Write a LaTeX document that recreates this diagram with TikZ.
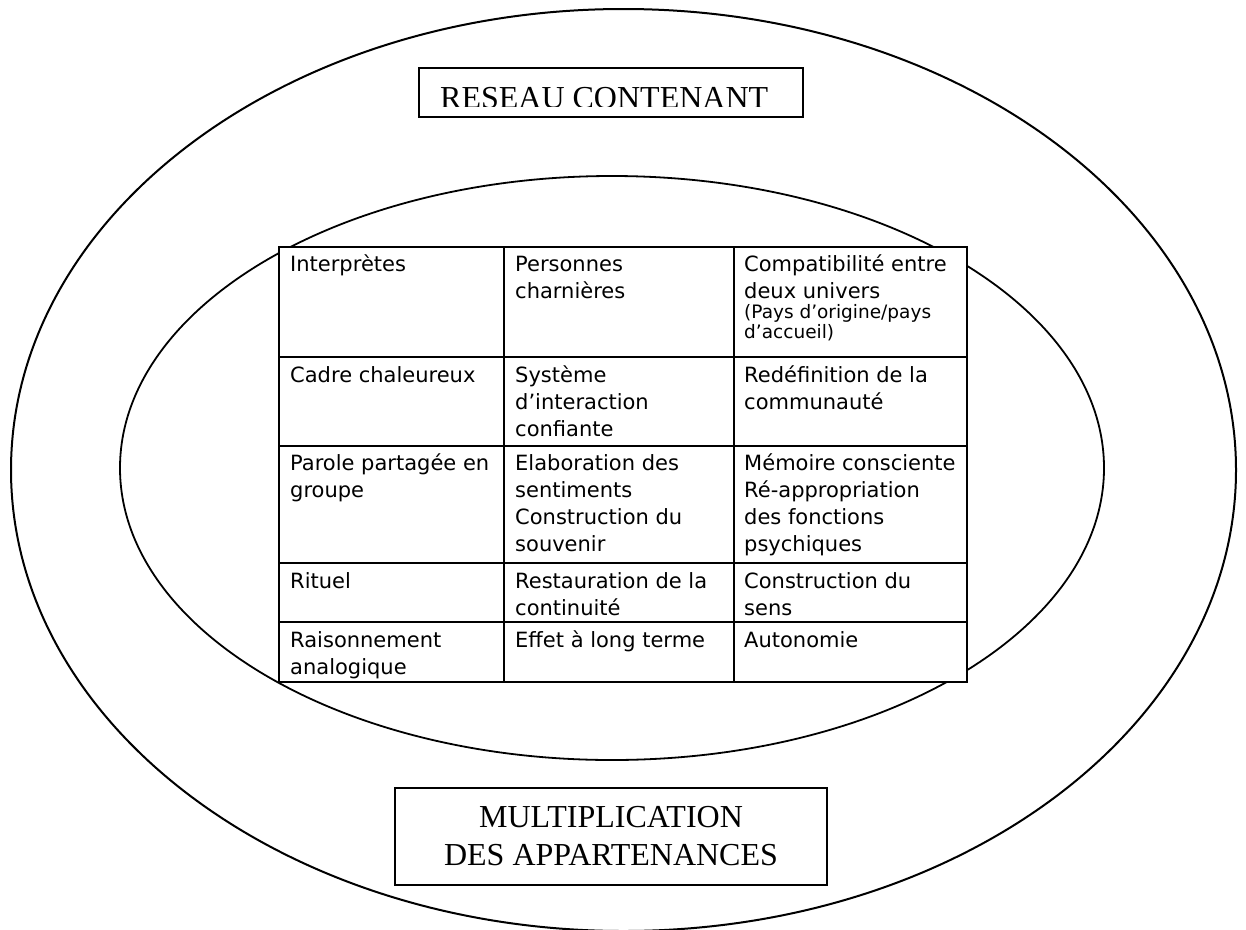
\documentclass[tikz,border=0pt]{standalone}
\usepackage{fontspec}
\setmainfont{Liberation Serif}
\newfontfamily\tahoma{DejaVu Sans}
\newcommand\cellfont{\tahoma\fontsize{21}{27}\selectfont}
\newcommand\notefont{\tahoma\fontsize{18.5}{20}\selectfont}
\newcommand\boxfont{\fontsize{32}{38}\selectfont}

\begin{document}
\begin{tikzpicture}[x=1pt,y=-1pt,
  oval/.style={draw=black,line width=2pt},
  grid/.style={draw=black,line width=2.5pt},
  frame/.style={draw=black,line width=1.6pt,fill=white},
  cell/.style={anchor=base west,inner sep=0pt,font=\cellfont}]
\useasboundingbox (0,0) rectangle (1246,929);

\draw[oval] (623.5,470) ellipse [x radius=612.5, y radius=461];
\draw[oval,line width=1.8pt] (612,468) ellipse [x radius=492, y radius=292];

\draw[frame] (419,68) rectangle (803,117);
\begin{scope}
\clip (419,68) rectangle (803,106);
\node[anchor=base west,inner sep=0pt,font=\boxfont] (reseau) at (440,108) {RESEAU CONTENANT};
\end{scope}

\draw[grid,fill=white] (279,247) rectangle (967,682);
\foreach \x in {504,734} \draw[grid] (\x,247) -- (\x,682);
\foreach \y in {357,446,563,622} \draw[grid] (279,\y) -- (967,\y);

\node[cell] (interp) at (290,271) {\parbox[t]{215pt}{\raggedright Interprètes}};
\node[cell] (charn) at (515,271) {\parbox[t]{215pt}{\raggedright Personnes\\charnières}};
\node[cell] (compat) at (744,271) {\parbox[t]{222pt}{\raggedright Compatibilité entre\\deux univers\par\notefont (Pays d’origine/pays\\d’accueil)}};

\node[cell] (cadre) at (290,382) {\parbox[t]{215pt}{\raggedright Cadre chaleureux}};
\node[cell] (systeme) at (515,382) {\parbox[t]{215pt}{\raggedright Système\\d’interaction\\confiante}};
\node[cell] (redef) at (744,382) {\parbox[t]{222pt}{\raggedright Redéfinition de la\\communauté}};

\node[cell] (parole) at (290,470) {\parbox[t]{215pt}{\raggedright Parole partagée en\\groupe}};
\node[cell] (elab) at (515,470) {\parbox[t]{215pt}{\raggedright Elaboration des\\sentiments\\Construction du\\souvenir}};
\node[cell] (memoire) at (744,470) {\parbox[t]{222pt}{\raggedright Mémoire consciente\\Ré-appropriation\\des fonctions\\psychiques}};

\node[cell] (rituel) at (290,588) {\parbox[t]{215pt}{\raggedright Rituel}};
\node[cell] (restau) at (515,588) {\parbox[t]{215pt}{\raggedright Restauration de la\\continuité}};
\node[cell] (sens) at (744,588) {\parbox[t]{222pt}{\raggedright Construction du\\sens}};

\node[cell] (raison) at (290,647) {\parbox[t]{215pt}{\raggedright Raisonnement\\analogique}};
\node[cell] (effet) at (515,647) {\parbox[t]{215pt}{\raggedright Effet à long terme}};
\node[cell] (autonomie) at (744,647) {\parbox[t]{222pt}{\raggedright Autonomie}};

\draw[frame] (395,788) rectangle (827,885);
\node[anchor=base,inner sep=0pt,font=\boxfont] (multi) at (611,827) {\parbox[t]{420pt}{\centering MULTIPLICATION\\DES APPARTENANCES}};

\end{tikzpicture}
\end{document}
